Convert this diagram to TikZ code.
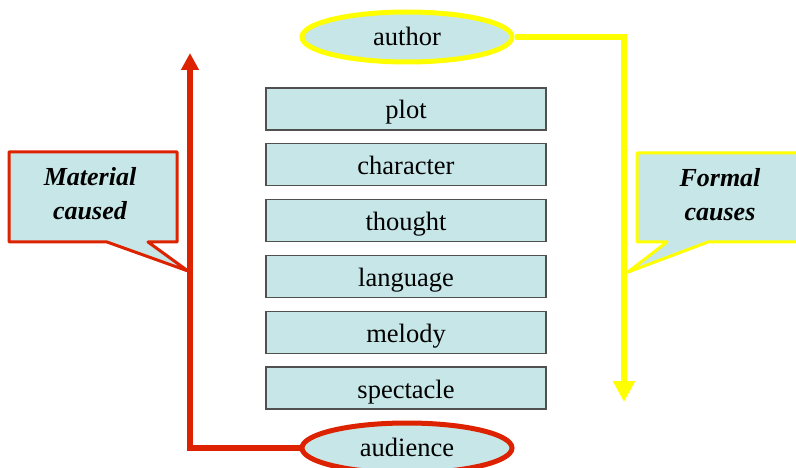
\documentclass[tikz,border=0pt]{standalone}
\usepackage{fontspec}
\setmainfont{Liberation Serif}
\usetikzlibrary{shapes.geometric,arrows.meta,positioning}
\definecolor{boxfill}{RGB}{199,230,232}
\definecolor{boxline}{RGB}{80,80,80}
\definecolor{matred}{RGB}{221,34,0}
\definecolor{formyellow}{RGB}{255,255,0}

\begin{document}
\begin{tikzpicture}[x=1pt,y=-1pt,
        part/.style={draw=boxline,line width=1.4pt,fill=boxfill,minimum width=280pt,
          minimum height=42pt,inner sep=0pt,text height=20pt,text depth=0pt,
          font=\fontsize{26.5}{30}\selectfont},
        agent/.style={ellipse,fill=boxfill,line width=5pt,minimum width=210pt,
          minimum height=50pt,inner sep=0pt,text height=17pt,text depth=0pt,
          font=\fontsize{26.5}{30}\selectfont},
        cause/.style={align=center,font=\fontsize{26}{34}\selectfont\bfseries\itshape}]
        \useasboundingbox (0,0) rectangle (796,468);
        % Callouts.
        \draw [fill=boxfill, draw=matred, line width=3pt, line join=round]
          (9,152) -- (177,152) -- (177,242) -- (148,242) -- (188,271) -- (107,242) -- (9,242) -- cycle;
        \draw [fill=boxfill, draw=formyellow, line width=3pt, line join=round]
          (637,153) -- (800,153) -- (800,242) -- (708,242) -- (628,272) -- (667,242) -- (637,242) -- cycle;
        \node [cause] (material) at (90,194) {Material\\caused};
        \node [cause] (formal) at (720,195) {Formal\\causes};
        % The six parts.
        \node [part] (plot) at (406,109) {plot};
        \node [part, below=12.4pt of plot] (character) {character};
        \node [part, below=12.4pt of character] (thought) {thought};
        \node [part, below=12.4pt of thought] (language) {language};
        \node [part, below=12.4pt of language] (melody) {melody};
        \node [part, below=12.4pt of melody] (spectacle) {spectacle};
        % Author and audience.
        \node [agent, draw=formyellow] (author) at (407,37) {author};
        \node [agent, draw=matred] (audience) at (407,448) {audience};
        \coordinate (formtip) at (624,402);
        \coordinate (mattip) at (190,53);
        \draw [formyellow, line width=6pt, -{Triangle[length=21pt,width=21pt]}] (author.east) -| (formtip);
        \draw [matred, line width=6pt, -{Triangle[length=17pt,width=17pt]}] (audience.west) -| (mattip);
      \end{tikzpicture}
\end{document}
